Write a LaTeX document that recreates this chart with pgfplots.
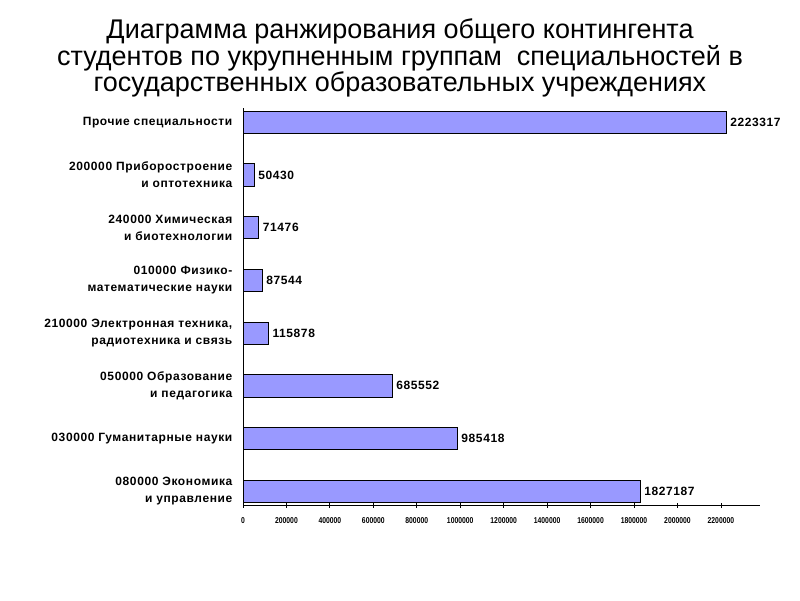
\documentclass[border=0pt]{standalone}
\usepackage{fontspec}
\setmainfont{Liberation Sans}
\newfontfamily\lblfont[LetterSpace=5]{Liberation Sans}
\newfontfamily\tickfont[FakeStretch=0.8]{Liberation Sans}
\usepackage{pgfplots}
\pgfplotsset{compat=1.18}
\definecolor{barfill}{HTML}{9999FF}
\begin{document}
\begin{tikzpicture}
\path[use as bounding box] (0pt,0pt) rectangle (800pt,600pt);
% title, one node with tight lines as in the original
\node[font=\fontsize{27}{23.5}\selectfont, align=center, anchor=base, inner sep=0pt] at (400pt,508pt)
  {Диаграмма ранжирования общего контингента\\студентов по укрупненным группам\ \ специальностей в\\государственных образовательных учреждениях};
\begin{axis}[
    at={(243pt,95pt)}, anchor=south west,
    scale only axis, width=517pt, height=397pt,
    xbar, bar width=0.42,
    xmin=0, xmax=2380000,
    ymin=-0.5, ymax=7.03,
    axis lines*=left,
    axis line style={black, line width=0.8pt},
    clip=false,
    scaled x ticks=false,
    xtick={0,200000,400000,600000,800000,1000000,1200000,1400000,1600000,1800000,2000000,2200000},
    xticklabels={0,200000,400000,600000,800000,1000000,1200000,1400000,1600000,1800000,2000000,2200000},
    xticklabel style={font=\tickfont\bfseries\fontsize{8.5}{8.5}\selectfont, yshift=-7pt},
    xtick style={black, line width=0.8pt},
    tick align=center,
    major tick length=5pt,
    ytick={-0.24,0.76,1.76,2.76,3.76,4.76,5.76,6.76},
    yticklabels={{080000 Экономика\\и управление},
                 {030000 Гуманитарные науки},
                 {050000 Образование\\и педагогика},
                 {210000 Электронная техника,\\радиотехника и связь},
                 {010000 Физико-\\математические науки},
                 {240000 Химическая\\и биотехнологии},
                 {200000 Приборостроение\\и оптотехника},
                 {Прочие специальности}},
    yticklabel style={align=right, font=\lblfont\bfseries\fontsize{12}{17}\selectfont, inner sep=0pt, xshift=-8pt},
    ytick style={draw=none},
    extra y ticks={-0.5,0.5,1.5,2.5,3.5,4.5,5.5,6.5},
    extra y tick labels={},
    extra y tick style={tick align=outside, tick style={draw=black, line width=0.8pt}},
    nodes near coords,
    point meta=explicit symbolic,
    nodes near coords style={font=\lblfont\bfseries\fontsize{12}{12}\selectfont, anchor=west, inner sep=0pt, xshift=4pt},
]
\addplot[fill=barfill, draw=black, line width=0.8pt] coordinates {
    (1827187,-0.24) [1827187]
    (985418,0.76) [985418]
    (685552,1.76) [685552]
    (115878,2.76) [115878]
    (87544,3.76) [87544]
    (71476,4.76) [71476]
    (50430,5.76) [50430]
    (2223317,6.76) [2223317]
};
\end{axis}
\end{tikzpicture}
\end{document}
